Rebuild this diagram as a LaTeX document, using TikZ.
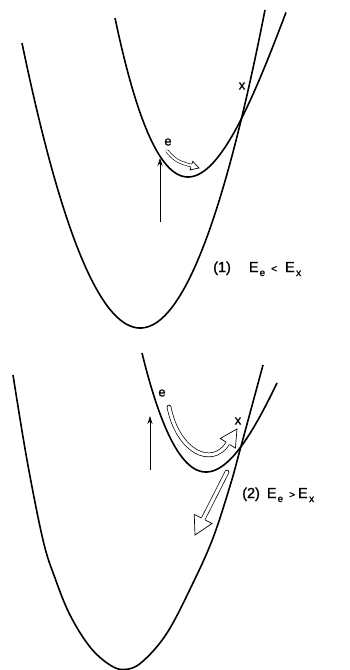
\documentclass[tikz,border=0pt]{standalone}
\usepackage{fontspec}
\setmainfont{Liberation Sans}
\newfontfamily\leroy[FakeBold=1.2]{Liberation Sans}
\usepackage{tikz}
\usetikzlibrary{calc,arrows.meta}

\newcommand{\lowsub}[1]{\lower4pt\hbox{\fontsize{10}{10}\selectfont #1}}
% open head of a hollow arrow: tip, base, half width, band half width
\newcommand{\hollowtip}[4]{%
  \fill[white] ($(#2)!#3!90:(#1)$) -- (#1) -- ($(#2)!#3!-90:(#1)$) -- cycle;
  \draw[line width=0.7pt,line join=miter] ($(#2)!#4!90:(#1)$) -- ($(#2)!#3!90:(#1)$) -- (#1)
    -- ($(#2)!#3!-90:(#1)$) -- ($(#2)!#4!-90:(#1)$);
}

\begin{document}
\begin{tikzpicture}[x=1pt,y=-1pt,
  well/.style={line width=1.6pt},
  band/.style={line width=0.7pt,double=white,double distance=3.2pt,line cap=round},
  lift/.style={line width=0.7pt,-{Stealth[length=8pt,width=5pt]}},
  tag/.style={inner sep=0pt,font=\leroy\fontsize{13}{13}\selectfont},
  case/.style={inner sep=0pt,anchor=base west,font=\leroy\fontsize{14.5}{14.5}\selectfont}]
  \useasboundingbox (0,0) rectangle (350,670);

  % (1) wells
  \draw[well] plot[domain=22:265,samples=90] (\x,{328-2.041*((\x-141)/10)^2-0.34*((\x-141)/10)});
  \draw[well] plot[domain=115:286,samples=90] (\x,{177-2.442*((\x-188)/10)^2+0.0743*((\x-188)/10)^3});

  \coordinate (v1a) at (160,222);
  \coordinate (v1b) at (160,158);
  \draw[lift] (v1a) -- (v1b);

  \coordinate (a1tip) at (199,168);
  \coordinate (a1base) at ($(a1tip)!8pt!(183,163)$);
  \draw[band,line width=0.6pt,double distance=2.2pt] (167,151) .. controls (174,159) and (177,162) .. (a1base);
  \hollowtip{a1tip}{a1base}{4.5pt}{1.7pt}

  \node[tag] (e1) at (168,142) {e};
  \node[tag] (x1) at (242,86) {x};
  \node[case] (c1) at (213,272) {(1)\hspace{18pt}E\hspace{1pt}\lowsub{e}\hspace{6pt}{\fontsize{10}{10}\selectfont <}\hspace{8pt}E\hspace{1.5pt}\lowsub{x}};

  % (2) wells
  \draw[well] plot[smooth,tension=0.6] coordinates {(13,375) (27,460) (43,540) (55,578) (70,615) (90,647)
    (110,665) (125,669.5) (142,662) (167,633) (193,583) (213,538) (230,486) (240,450) (263,365)};
  \draw[well] plot[domain=142:277,samples=90] (\x,{472-2.365*((\x-206)/10)^2+0.0843*((\x-206)/10)^3});

  \coordinate (v2a) at (150,470);
  \coordinate (v2b) at (150,416);
  \draw[lift] (v2a) -- (v2b);

  \coordinate (a2tip) at (237,429);
  \coordinate (a2base) at ($(a2tip)!17pt!(212,468)$);
  \draw[band] (169,407) .. controls (178,452) and (212,468) .. (a2base);
  \hollowtip{a2tip}{a2base}{9pt}{2.3pt}

  \coordinate (a3tip) at (195,535);
  \coordinate (a3base) at ($(a3tip)!18pt!(227,472)$);
  \draw[band] (227,472) -- (a3base);
  \hollowtip{a3tip}{a3base}{10pt}{2.3pt}

  \node[tag] (e2) at (162,393) {e};
  \node[tag] (x2) at (238,421) {x};
  \node[case] (c2) at (242,498) {(2)\hspace{7pt}E\hspace{1pt}\lowsub{e}\hspace{6pt}{\fontsize{10}{10}\selectfont >}\hspace{3pt}E\hspace{1.5pt}\lowsub{x}};
\end{tikzpicture}
\end{document}
